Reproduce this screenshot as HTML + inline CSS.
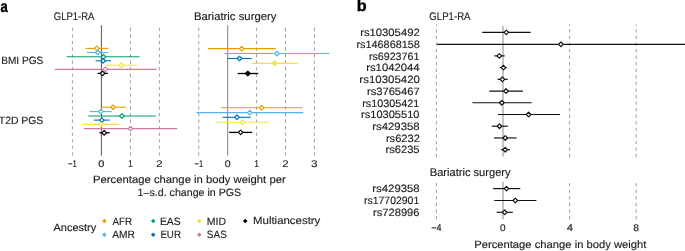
<!DOCTYPE html>
<html><head><meta charset="utf-8"><style>
html,body{margin:0;padding:0;background:#fff;}
svg{display:block;font-family:"Liberation Sans",sans-serif;will-change:transform;text-rendering:geometricPrecision;}
</style></head><body>
<svg width="685" height="251" viewBox="0 0 685 251">
<rect width="685" height="251" fill="#fff"/>
<line x1="72.40" y1="27.80" x2="72.40" y2="155.50" stroke="#a0a0a0" stroke-width="1" stroke-dasharray="3.3 3.25"/>
<line x1="130.40" y1="27.80" x2="130.40" y2="155.50" stroke="#a0a0a0" stroke-width="1" stroke-dasharray="3.3 3.25"/>
<line x1="159.40" y1="27.80" x2="159.40" y2="155.50" stroke="#a0a0a0" stroke-width="1" stroke-dasharray="3.3 3.25"/>
<line x1="198.80" y1="27.80" x2="198.80" y2="155.50" stroke="#a0a0a0" stroke-width="1" stroke-dasharray="3.3 3.25"/>
<line x1="256.60" y1="27.80" x2="256.60" y2="155.50" stroke="#a0a0a0" stroke-width="1" stroke-dasharray="3.3 3.25"/>
<line x1="285.50" y1="27.80" x2="285.50" y2="155.50" stroke="#a0a0a0" stroke-width="1" stroke-dasharray="3.3 3.25"/>
<line x1="314.40" y1="27.80" x2="314.40" y2="155.50" stroke="#a0a0a0" stroke-width="1" stroke-dasharray="3.3 3.25"/>
<line x1="101.40" y1="25.20" x2="101.40" y2="155.60" stroke="#555" stroke-width="1"/>
<line x1="227.70" y1="25.20" x2="227.70" y2="155.60" stroke="#808080" stroke-width="1"/>
<line x1="85.40" y1="48.40" x2="108.50" y2="48.40" stroke="#E69F00" stroke-width="1.1"/>
<line x1="87.00" y1="52.50" x2="108.50" y2="52.50" stroke="#56B4E9" stroke-width="1.1"/>
<line x1="66.60" y1="56.80" x2="139.50" y2="56.80" stroke="#009E73" stroke-width="1.1"/>
<line x1="95.60" y1="60.80" x2="110.90" y2="60.80" stroke="#0072B2" stroke-width="1.1"/>
<line x1="105.80" y1="65.30" x2="137.10" y2="65.30" stroke="#F0E442" stroke-width="1.1"/>
<line x1="54.70" y1="69.40" x2="156.50" y2="69.40" stroke="#CC79A7" stroke-width="1.1"/>
<line x1="97.60" y1="73.40" x2="107.90" y2="73.40" stroke="#000000" stroke-width="1.3"/>
<line x1="101.00" y1="107.20" x2="125.70" y2="107.20" stroke="#E69F00" stroke-width="1.1"/>
<line x1="89.60" y1="111.60" x2="111.80" y2="111.60" stroke="#56B4E9" stroke-width="1.1"/>
<line x1="88.10" y1="116.00" x2="155.90" y2="116.00" stroke="#009E73" stroke-width="1.1"/>
<line x1="93.80" y1="120.10" x2="109.70" y2="120.10" stroke="#0072B2" stroke-width="1.1"/>
<line x1="82.20" y1="124.40" x2="119.30" y2="124.40" stroke="#F0E442" stroke-width="1.1"/>
<line x1="84.10" y1="128.60" x2="177.30" y2="128.60" stroke="#CC79A7" stroke-width="1.1"/>
<line x1="99.40" y1="132.80" x2="109.70" y2="132.80" stroke="#000000" stroke-width="1.3"/>
<path d="M94.50 48.40L96.80 46.10L99.10 48.40L96.80 50.70Z" fill="#fff" stroke="#E69F00" stroke-width="1.2" stroke-linejoin="round"/>
<path d="M95.50 52.50L97.80 50.20L100.10 52.50L97.80 54.80Z" fill="#fff" stroke="#56B4E9" stroke-width="1.2" stroke-linejoin="round"/>
<path d="M101.10 56.80L103.40 54.50L105.70 56.80L103.40 59.10Z" fill="#fff" stroke="#009E73" stroke-width="1.2" stroke-linejoin="round"/>
<path d="M100.90 60.80L103.20 58.50L105.50 60.80L103.20 63.10Z" fill="#fff" stroke="#0072B2" stroke-width="1.2" stroke-linejoin="round"/>
<path d="M119.00 65.30L121.30 63.00L123.60 65.30L121.30 67.60Z" fill="#fff" stroke="#F0E442" stroke-width="1.2" stroke-linejoin="round"/>
<path d="M103.10 69.40L105.40 67.10L107.70 69.40L105.40 71.70Z" fill="#fff" stroke="#CC79A7" stroke-width="1.2" stroke-linejoin="round"/>
<path d="M100.30 73.40L102.60 71.10L104.90 73.40L102.60 75.70Z" fill="#fff" stroke="#000000" stroke-width="1.2" stroke-linejoin="round"/>
<path d="M110.70 107.20L113.00 104.90L115.30 107.20L113.00 109.50Z" fill="#fff" stroke="#E69F00" stroke-width="1.2" stroke-linejoin="round"/>
<path d="M98.50 111.60L100.80 109.30L103.10 111.60L100.80 113.90Z" fill="#fff" stroke="#56B4E9" stroke-width="1.2" stroke-linejoin="round"/>
<path d="M119.60 116.00L121.90 113.70L124.20 116.00L121.90 118.30Z" fill="#fff" stroke="#009E73" stroke-width="1.2" stroke-linejoin="round"/>
<path d="M99.50 120.10L101.80 117.80L104.10 120.10L101.80 122.40Z" fill="#fff" stroke="#0072B2" stroke-width="1.2" stroke-linejoin="round"/>
<path d="M98.70 124.40L101.00 122.10L103.30 124.40L101.00 126.70Z" fill="#fff" stroke="#F0E442" stroke-width="1.2" stroke-linejoin="round"/>
<path d="M128.20 128.60L130.50 126.30L132.80 128.60L130.50 130.90Z" fill="#fff" stroke="#CC79A7" stroke-width="1.2" stroke-linejoin="round"/>
<path d="M101.90 132.80L104.20 130.50L106.50 132.80L104.20 135.10Z" fill="#fff" stroke="#000000" stroke-width="1.2" stroke-linejoin="round"/>
<line x1="208.00" y1="48.60" x2="275.80" y2="48.60" stroke="#E69F00" stroke-width="1.1"/>
<line x1="224.40" y1="53.50" x2="329.50" y2="53.50" stroke="#56B4E9" stroke-width="1.1"/>
<line x1="227.20" y1="58.50" x2="251.70" y2="58.50" stroke="#0072B2" stroke-width="1.1"/>
<line x1="251.70" y1="63.40" x2="297.70" y2="63.40" stroke="#F0E442" stroke-width="1.1"/>
<line x1="237.70" y1="73.50" x2="258.30" y2="73.50" stroke="#000000" stroke-width="1.3"/>
<line x1="221.00" y1="107.70" x2="302.30" y2="107.70" stroke="#E69F00" stroke-width="1.1"/>
<line x1="196.40" y1="112.60" x2="303.30" y2="112.60" stroke="#56B4E9" stroke-width="1.1"/>
<line x1="222.60" y1="117.30" x2="250.80" y2="117.30" stroke="#0072B2" stroke-width="1.1"/>
<line x1="216.50" y1="122.20" x2="268.60" y2="122.20" stroke="#F0E442" stroke-width="1.1"/>
<line x1="229.10" y1="132.40" x2="252.20" y2="132.40" stroke="#000000" stroke-width="1.3"/>
<path d="M239.40 48.60L241.70 46.30L244.00 48.60L241.70 50.90Z" fill="#fff" stroke="#E69F00" stroke-width="1.2" stroke-linejoin="round"/>
<path d="M274.60 53.50L276.90 51.20L279.20 53.50L276.90 55.80Z" fill="#fff" stroke="#56B4E9" stroke-width="1.2" stroke-linejoin="round"/>
<path d="M237.20 58.50L239.50 56.20L241.80 58.50L239.50 60.80Z" fill="#fff" stroke="#0072B2" stroke-width="1.2" stroke-linejoin="round"/>
<path d="M272.40 63.40L274.70 61.10L277.00 63.40L274.70 65.70Z" fill="#F0E442" stroke="#F0E442" stroke-width="1.2" stroke-linejoin="round"/>
<path d="M245.50 73.50L247.80 71.20L250.10 73.50L247.80 75.80Z" fill="#000000" stroke="#000000" stroke-width="1.2" stroke-linejoin="round"/>
<path d="M259.30 107.70L261.60 105.40L263.90 107.70L261.60 110.00Z" fill="#fff" stroke="#E69F00" stroke-width="1.2" stroke-linejoin="round"/>
<path d="M247.50 112.60L249.80 110.30L252.10 112.60L249.80 114.90Z" fill="#fff" stroke="#56B4E9" stroke-width="1.2" stroke-linejoin="round"/>
<path d="M234.60 117.30L236.90 115.00L239.20 117.30L236.90 119.60Z" fill="#fff" stroke="#0072B2" stroke-width="1.2" stroke-linejoin="round"/>
<path d="M240.10 122.20L242.40 119.90L244.70 122.20L242.40 124.50Z" fill="#fff" stroke="#F0E442" stroke-width="1.2" stroke-linejoin="round"/>
<path d="M238.30 132.40L240.60 130.10L242.90 132.40L240.60 134.70Z" fill="#fff" stroke="#000000" stroke-width="1.2" stroke-linejoin="round"/>
<path d="M102.10000000000001 221.0L104.4 218.7L106.7 221.0L104.4 223.3Z" fill="#E69F00"/>
<path d="M102.10000000000001 234.7L104.4 232.39999999999998L106.7 234.7L104.4 237.0Z" fill="#56B4E9"/>
<path d="M150.89999999999998 221.0L153.2 218.7L155.5 221.0L153.2 223.3Z" fill="#009E73"/>
<path d="M150.89999999999998 234.7L153.2 232.39999999999998L155.5 234.7L153.2 237.0Z" fill="#0072B2"/>
<path d="M196.89999999999998 221.0L199.2 218.7L201.5 221.0L199.2 223.3Z" fill="#F0E442"/>
<path d="M196.89999999999998 234.7L199.2 232.39999999999998L201.5 234.7L199.2 237.0Z" fill="#CC79A7"/>
<path d="M242.89999999999998 221.0L245.2 218.7L247.5 221.0L245.2 223.3Z" fill="#000000"/>
<line x1="436.40" y1="157.40" x2="436.40" y2="24.40" stroke="#a0a0a0" stroke-width="1" stroke-dasharray="3.4 3.17"/>
<line x1="436.40" y1="183.00" x2="436.40" y2="219.80" stroke="#a0a0a0" stroke-width="1" stroke-dasharray="3.4 3.2"/>
<line x1="569.60" y1="157.40" x2="569.60" y2="24.40" stroke="#a0a0a0" stroke-width="1" stroke-dasharray="3.4 3.17"/>
<line x1="569.60" y1="183.00" x2="569.60" y2="219.80" stroke="#a0a0a0" stroke-width="1" stroke-dasharray="3.4 3.2"/>
<line x1="636.20" y1="157.40" x2="636.20" y2="24.40" stroke="#a0a0a0" stroke-width="1" stroke-dasharray="3.4 3.17"/>
<line x1="636.20" y1="183.00" x2="636.20" y2="219.80" stroke="#a0a0a0" stroke-width="1" stroke-dasharray="3.4 3.2"/>
<line x1="503.00" y1="25.80" x2="503.00" y2="156.50" stroke="#8a8a8a" stroke-width="1"/>
<line x1="503.00" y1="181.80" x2="503.00" y2="219.20" stroke="#8a8a8a" stroke-width="1"/>
<line x1="482.20" y1="32.40" x2="530.60" y2="32.40" stroke="#111" stroke-width="1.15"/>
<line x1="437.00" y1="44.30" x2="685.00" y2="44.30" stroke="#111" stroke-width="1.15"/>
<line x1="494.40" y1="55.86" x2="504.70" y2="55.86" stroke="#111" stroke-width="1.15"/>
<line x1="499.80" y1="67.59" x2="506.80" y2="67.59" stroke="#111" stroke-width="1.15"/>
<line x1="497.50" y1="79.32" x2="507.80" y2="79.32" stroke="#111" stroke-width="1.15"/>
<line x1="489.30" y1="91.05" x2="522.90" y2="91.05" stroke="#111" stroke-width="1.15"/>
<line x1="472.40" y1="102.78" x2="531.70" y2="102.78" stroke="#111" stroke-width="1.15"/>
<line x1="497.70" y1="114.51" x2="560.00" y2="114.51" stroke="#111" stroke-width="1.15"/>
<line x1="491.80" y1="126.24" x2="507.80" y2="126.24" stroke="#111" stroke-width="1.15"/>
<line x1="494.00" y1="137.97" x2="516.60" y2="137.97" stroke="#111" stroke-width="1.15"/>
<line x1="501.00" y1="149.70" x2="510.00" y2="149.70" stroke="#111" stroke-width="1.15"/>
<line x1="493.10" y1="188.60" x2="520.30" y2="188.60" stroke="#111" stroke-width="1.15"/>
<line x1="494.30" y1="200.50" x2="536.40" y2="200.50" stroke="#111" stroke-width="1.15"/>
<line x1="496.70" y1="212.30" x2="512.80" y2="212.30" stroke="#111" stroke-width="1.15"/>
<path d="M504.00 32.40L506.30 30.10L508.60 32.40L506.30 34.70Z" fill="#fff" stroke="#111" stroke-width="1.2" stroke-linejoin="round"/>
<path d="M558.60 44.30L560.90 42.00L563.20 44.30L560.90 46.60Z" fill="#fff" stroke="#111" stroke-width="1.2" stroke-linejoin="round"/>
<path d="M497.00 55.86L499.30 53.56L501.60 55.86L499.30 58.16Z" fill="#fff" stroke="#111" stroke-width="1.2" stroke-linejoin="round"/>
<path d="M501.10 67.59L503.40 65.29L505.70 67.59L503.40 69.89Z" fill="#fff" stroke="#111" stroke-width="1.2" stroke-linejoin="round"/>
<path d="M500.10 79.32L502.40 77.02L504.70 79.32L502.40 81.62Z" fill="#fff" stroke="#111" stroke-width="1.2" stroke-linejoin="round"/>
<path d="M503.70 91.05L506.00 88.75L508.30 91.05L506.00 93.35Z" fill="#fff" stroke="#111" stroke-width="1.2" stroke-linejoin="round"/>
<path d="M499.50 102.78L501.80 100.48L504.10 102.78L501.80 105.08Z" fill="#fff" stroke="#111" stroke-width="1.2" stroke-linejoin="round"/>
<path d="M526.30 114.51L528.60 112.21L530.90 114.51L528.60 116.81Z" fill="#fff" stroke="#111" stroke-width="1.2" stroke-linejoin="round"/>
<path d="M497.20 126.24L499.50 123.94L501.80 126.24L499.50 128.54Z" fill="#fff" stroke="#111" stroke-width="1.2" stroke-linejoin="round"/>
<path d="M502.90 137.97L505.20 135.67L507.50 137.97L505.20 140.27Z" fill="#fff" stroke="#111" stroke-width="1.2" stroke-linejoin="round"/>
<path d="M502.90 149.70L505.20 147.40L507.50 149.70L505.20 152.00Z" fill="#fff" stroke="#111" stroke-width="1.2" stroke-linejoin="round"/>
<path d="M504.20 188.60L506.50 186.30L508.80 188.60L506.50 190.90Z" fill="#fff" stroke="#111" stroke-width="1.2" stroke-linejoin="round"/>
<path d="M513.00 200.50L515.30 198.20L517.60 200.50L515.30 202.80Z" fill="#fff" stroke="#111" stroke-width="1.2" stroke-linejoin="round"/>
<path d="M502.40 212.30L504.70 210.00L507.00 212.30L504.70 214.60Z" fill="#fff" stroke="#111" stroke-width="1.2" stroke-linejoin="round"/>
<text x="0.62" y="11.90" font-size="16.5" font-weight="bold" textLength="7.25" lengthAdjust="spacingAndGlyphs" fill="#000" stroke="#000" stroke-width="0.4">a</text>
<text x="53.87" y="19.88" font-size="11.0" textLength="40.52" lengthAdjust="spacingAndGlyphs" fill="#1e1e1e" stroke="#1e1e1e" stroke-width="0.15">GLP1-RA</text>
<text x="194.00" y="19.93" font-size="11.0" textLength="82.43" lengthAdjust="spacingAndGlyphs" fill="#1e1e1e" stroke="#1e1e1e" stroke-width="0.15">Bariatric surgery</text>
<text x="1.19" y="63.80" font-size="10.6" textLength="42.04" lengthAdjust="spacingAndGlyphs" fill="#1e1e1e" stroke="#1e1e1e" stroke-width="0.15">BMI PGS</text>
<text x="-1.23" y="123.55" font-size="10.6" textLength="44.55" lengthAdjust="spacingAndGlyphs" fill="#1e1e1e" stroke="#1e1e1e" stroke-width="0.15">T2D PGS</text>
<text x="93.00" y="183.35" font-size="10.6" textLength="192.70" lengthAdjust="spacingAndGlyphs" fill="#1e1e1e" stroke="#1e1e1e" stroke-width="0.15">Percentage change in body weight per</text>
<text x="137.62" y="195.75" font-size="10.6" textLength="103.60" lengthAdjust="spacingAndGlyphs" fill="#1e1e1e" stroke="#1e1e1e" stroke-width="0.15">1–s.d. change in PGS</text>
<text x="53.53" y="231.15" font-size="10.6" textLength="42.63" lengthAdjust="spacingAndGlyphs" fill="#1e1e1e" stroke="#1e1e1e" stroke-width="0.15">Ancestry</text>
<text x="112.57" y="224.55" font-size="10.6" textLength="19.61" lengthAdjust="spacingAndGlyphs" fill="#1e1e1e" stroke="#1e1e1e" stroke-width="0.15">AFR</text>
<text x="112.30" y="238.35" font-size="10.6" textLength="22.62" lengthAdjust="spacingAndGlyphs" fill="#1e1e1e" stroke="#1e1e1e" stroke-width="0.15">AMR</text>
<text x="159.89" y="224.55" font-size="10.6" textLength="20.81" lengthAdjust="spacingAndGlyphs" fill="#1e1e1e" stroke="#1e1e1e" stroke-width="0.15">EAS</text>
<text x="160.38" y="238.35" font-size="10.6" textLength="20.55" lengthAdjust="spacingAndGlyphs" fill="#1e1e1e" stroke="#1e1e1e" stroke-width="0.15">EUR</text>
<text x="206.74" y="224.55" font-size="10.6" textLength="19.31" lengthAdjust="spacingAndGlyphs" fill="#1e1e1e" stroke="#1e1e1e" stroke-width="0.15">MID</text>
<text x="206.86" y="238.35" font-size="10.6" textLength="19.92" lengthAdjust="spacingAndGlyphs" fill="#1e1e1e" stroke="#1e1e1e" stroke-width="0.15">SAS</text>
<text x="253.00" y="224.35" font-size="10.6" textLength="67.34" lengthAdjust="spacingAndGlyphs" fill="#1e1e1e" stroke="#1e1e1e" stroke-width="0.15">Multiancestry</text>
<text x="356.74" y="11.00" font-size="16" font-weight="bold" textLength="9.90" lengthAdjust="spacingAndGlyphs" fill="#000" stroke="#000" stroke-width="0.4">b</text>
<text x="429.33" y="20.13" font-size="11.0" textLength="41.17" lengthAdjust="spacingAndGlyphs" fill="#1e1e1e" stroke="#1e1e1e" stroke-width="0.15">GLP1-RA</text>
<text x="429.74" y="176.38" font-size="11.0" textLength="80.88" lengthAdjust="spacingAndGlyphs" fill="#1e1e1e" stroke="#1e1e1e" stroke-width="0.15">Bariatric surgery</text>
<text x="474.16" y="248.10" font-size="10.6" textLength="172.28" lengthAdjust="spacingAndGlyphs" fill="#1e1e1e" stroke="#1e1e1e" stroke-width="0.15">Percentage change in body weight</text>
<text x="360.19" y="36.15" font-size="10.6" textLength="59.49" lengthAdjust="spacingAndGlyphs" fill="#1e1e1e" stroke="#1e1e1e" stroke-width="0.15">rs10305492</text>
<text x="356.44" y="48.05" font-size="10.6" textLength="63.42" lengthAdjust="spacingAndGlyphs" fill="#1e1e1e" stroke="#1e1e1e" stroke-width="0.15">rs146868158</text>
<text x="368.91" y="59.61" font-size="10.6" textLength="50.44" lengthAdjust="spacingAndGlyphs" fill="#1e1e1e" stroke="#1e1e1e" stroke-width="0.15">rs6923761</text>
<text x="366.16" y="71.34" font-size="10.6" textLength="53.49" lengthAdjust="spacingAndGlyphs" fill="#1e1e1e" stroke="#1e1e1e" stroke-width="0.15">rs1042044</text>
<text x="359.39" y="83.07" font-size="10.6" textLength="60.53" lengthAdjust="spacingAndGlyphs" fill="#1e1e1e" stroke="#1e1e1e" stroke-width="0.15">rs10305420</text>
<text x="366.98" y="94.80" font-size="10.6" textLength="52.67" lengthAdjust="spacingAndGlyphs" fill="#1e1e1e" stroke="#1e1e1e" stroke-width="0.15">rs3765467</text>
<text x="362.22" y="106.53" font-size="10.6" textLength="57.16" lengthAdjust="spacingAndGlyphs" fill="#1e1e1e" stroke="#1e1e1e" stroke-width="0.15">rs10305421</text>
<text x="361.01" y="118.26" font-size="10.6" textLength="58.51" lengthAdjust="spacingAndGlyphs" fill="#1e1e1e" stroke="#1e1e1e" stroke-width="0.15">rs10305510</text>
<text x="372.27" y="129.99" font-size="10.6" textLength="47.32" lengthAdjust="spacingAndGlyphs" fill="#1e1e1e" stroke="#1e1e1e" stroke-width="0.15">rs429358</text>
<text x="385.90" y="141.72" font-size="10.6" textLength="34.08" lengthAdjust="spacingAndGlyphs" fill="#1e1e1e" stroke="#1e1e1e" stroke-width="0.15">rs6232</text>
<text x="385.42" y="153.45" font-size="10.6" textLength="34.19" lengthAdjust="spacingAndGlyphs" fill="#1e1e1e" stroke="#1e1e1e" stroke-width="0.15">rs6235</text>
<text x="372.27" y="192.35" font-size="10.6" textLength="47.42" lengthAdjust="spacingAndGlyphs" fill="#1e1e1e" stroke="#1e1e1e" stroke-width="0.15">rs429358</text>
<text x="364.03" y="204.25" font-size="10.6" textLength="55.19" lengthAdjust="spacingAndGlyphs" fill="#1e1e1e" stroke="#1e1e1e" stroke-width="0.15">rs17702901</text>
<text x="373.12" y="216.05" font-size="10.6" textLength="46.38" lengthAdjust="spacingAndGlyphs" fill="#1e1e1e" stroke="#1e1e1e" stroke-width="0.15">rs728996</text>
<text x="68.10" y="167.14" font-size="9.7" textLength="8.83" lengthAdjust="spacingAndGlyphs" fill="#1e1e1e" stroke="#1e1e1e" stroke-width="0.15">−1</text>
<text x="98.16" y="167.14" font-size="9.7" textLength="6.10" lengthAdjust="spacingAndGlyphs" fill="#1e1e1e" stroke="#1e1e1e" stroke-width="0.15">0</text>
<text x="128.22" y="167.14" font-size="9.7" textLength="4.47" lengthAdjust="spacingAndGlyphs" fill="#1e1e1e" stroke="#1e1e1e" stroke-width="0.15">1</text>
<text x="156.25" y="167.14" font-size="9.7" textLength="6.35" lengthAdjust="spacingAndGlyphs" fill="#1e1e1e" stroke="#1e1e1e" stroke-width="0.15">2</text>
<text x="194.56" y="167.14" font-size="9.7" textLength="8.46" lengthAdjust="spacingAndGlyphs" fill="#1e1e1e" stroke="#1e1e1e" stroke-width="0.15">−1</text>
<text x="224.87" y="167.14" font-size="9.7" textLength="5.84" lengthAdjust="spacingAndGlyphs" fill="#1e1e1e" stroke="#1e1e1e" stroke-width="0.15">0</text>
<text x="254.33" y="167.14" font-size="9.7" textLength="4.70" lengthAdjust="spacingAndGlyphs" fill="#1e1e1e" stroke="#1e1e1e" stroke-width="0.15">1</text>
<text x="282.30" y="167.14" font-size="9.7" textLength="6.30" lengthAdjust="spacingAndGlyphs" fill="#1e1e1e" stroke="#1e1e1e" stroke-width="0.15">2</text>
<text x="310.98" y="167.14" font-size="9.7" textLength="6.55" lengthAdjust="spacingAndGlyphs" fill="#1e1e1e" stroke="#1e1e1e" stroke-width="0.15">3</text>
<text x="431.36" y="231.24" font-size="9.7" textLength="10.23" lengthAdjust="spacingAndGlyphs" fill="#1e1e1e" stroke="#1e1e1e" stroke-width="0.15">−4</text>
<text x="500.12" y="231.24" font-size="9.7" textLength="5.60" lengthAdjust="spacingAndGlyphs" fill="#1e1e1e" stroke="#1e1e1e" stroke-width="0.15">0</text>
<text x="566.67" y="231.24" font-size="9.7" textLength="6.26" lengthAdjust="spacingAndGlyphs" fill="#1e1e1e" stroke="#1e1e1e" stroke-width="0.15">4</text>
<text x="633.28" y="231.24" font-size="9.7" textLength="5.81" lengthAdjust="spacingAndGlyphs" fill="#1e1e1e" stroke="#1e1e1e" stroke-width="0.15">8</text>
</svg>
</body></html>
